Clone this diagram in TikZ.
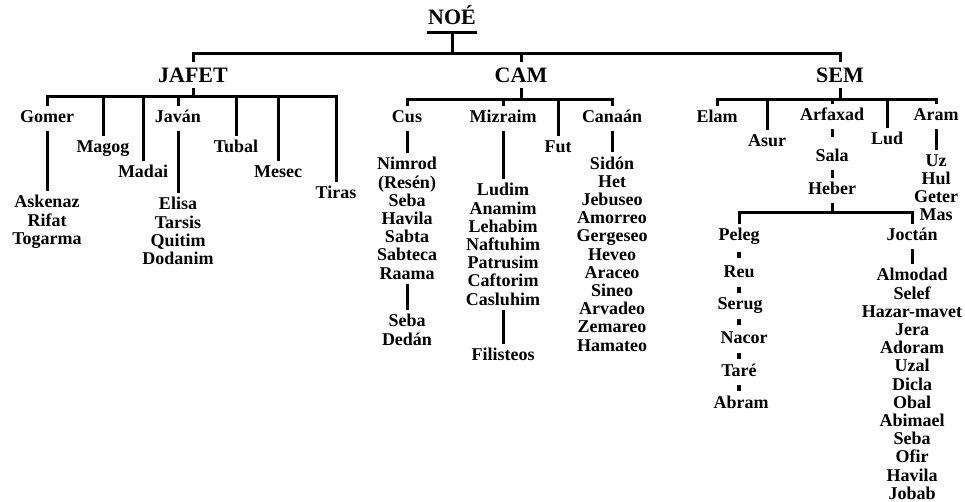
\documentclass[tikz,border=0pt]{standalone}
\usepackage{fontspec}
\setmainfont{Liberation Serif}
\usetikzlibrary{positioning,calc}

\begin{document}
\begin{tikzpicture}[x=1pt,y=-1pt,line width=3pt,
	raiz/.style={font=\bfseries\fontsize{22}{22}\selectfont,inner xsep=0pt,inner ysep=6pt,text depth=0pt,anchor=base},
	jefe/.style={font=\bfseries\fontsize{22}{22}\selectfont,inner sep=4pt,text height=15pt,text depth=0pt,anchor=base},
	hijo/.style={font=\bfseries\fontsize{18}{18.2}\selectfont,inner sep=3pt,text height=12pt,text depth=4pt,anchor=base},
	lista/.style={font=\bfseries\fontsize{18}{18.2}\selectfont,inner sep=3pt,align=center,anchor=north},
	paso/.style={line width=3.5pt}]
	\useasboundingbox[fill=white] (0,0) rectangle (965,502);

	% Noe and his three sons
	\node[raiz] (noe) at (452,25) {NOÉ};
	\coordinate[below=21pt of noe.south] (tronco);
	\node[jefe] (jafet) at (193,83) {JAFET};
	\node[jefe] (cam) at (521,83) {CAM};
	\node[jefe] (sem) at (840,83) {SEM};
	\draw (noe.south west) -- (noe.south east);
	\draw (noe.south) -- (tronco);
	\draw (jafet.north) |- (tronco) -| (sem.north);
	\draw (cam.north) -- (cam.north |- tronco);

	% Jafet
	\node[hijo] (gomer) at (47,123) {Gomer};
	\node[hijo] (magog) at (103,153) {Magog};
	\node[hijo] (madai) at (143,178) {Madai};
	\node[hijo] (javan) at (178,123) {Javán};
	\node[hijo] (tubal) at (236,153) {Tubal};
	\node[hijo] (mesec) at (278,178) {Mesec};
	\node[hijo] (tiras) at (336,199) {Tiras};
	\node[lista] (gomerh) at (47,191) {Askenaz\\Rifat\\Togarma};
	\node[lista] (javanh) at (178,193) {Elisa\\Tarsis\\Quitim\\Dodanim};
	\coordinate[below=8pt of jafet.south] (rjafet);
	\draw (jafet.south) -- (rjafet);
	\draw (gomer.north) |- (rjafet) -| (tiras.north);
	\foreach \n in {magog,madai,javan,tubal,mesec}
		\draw (\n.north) -- (\n.north |- rjafet);
	\draw (gomer.south) -- (gomerh.north);
	\draw (javan.south) -- (javanh.north);

	% Cam
	\node[hijo] (cus) at (407,123) {Cus};
	\node[hijo] (mizraim) at (503,123) {Mizraim};
	\node[hijo] (fut) at (558,153) {Fut};
	\node[hijo] (canaan) at (612,123) {Canaán};
	\node[lista] (cush) at (407,153) {Nimrod\\(Resén)\\Seba\\Havila\\Sabta\\Sabteca\\Raama};
	\node[lista] (raamah) at (407,310) {Seba\\Dedán};
	\node[lista] (mizraimh) at (503,179) {Ludim\\Anamim\\Lehabim\\Naftuhim\\Patrusim\\Caftorim\\Casluhim};
	\node[hijo] (filisteos) at (503,360) {Filisteos};
	\node[lista] (canaanh) at (612,152) {Sidón\\Het\\Jebuseo\\Amorreo\\Gergeseo\\Heveo\\Araceo\\Sineo\\Arvadeo\\Zemareo\\Hamateo};
	\coordinate[below=11pt of cam.south] (rcam);
	\draw (cam.south) -- (rcam);
	\draw (cus.north) |- (rcam) -| (canaan.north);
	\foreach \n in {mizraim,fut}
		\draw (\n.north) -- (\n.north |- rcam);
	\draw (cus.south) -- (cush.north);
	\draw (cush.south) -- (raamah.north);
	\draw (mizraim.south) -- (mizraimh.north);
	\draw (mizraimh.south) -- (filisteos.north);
	\draw (canaan.south) -- (canaanh.north);

	% Sem
	\node[hijo] (elam) at (717,123) {Elam};
	\node[hijo] (asur) at (767,147) {Asur};
	\node[hijo] (arfaxad) at (832,121) {Arfaxad};
	\node[hijo] (lud) at (887,145) {Lud};
	\node[hijo] (aram) at (936,121) {Aram};
	\node[lista] (aramh) at (936,150) {Uz\\Hul\\Geter\\Mas};
	\node[hijo] (sala) at (832,162) {Sala};
	\node[hijo] (heber) at (832,195) {Heber};
	\node[hijo] (peleg) at (739,241) {Peleg};
	\node[hijo] (joctan) at (912,241) {Joctán};
	\node[hijo] (reu) at (739,278) {Reu};
	\node[hijo] (serug) at (740,309) {Serug};
	\node[hijo] (nacor) at (744,343) {Nacor};
	\node[hijo] (tare) at (739,376) {Taré};
	\node[hijo] (abram) at (741,408) {Abram};
	\node[lista] (joctanh) at (912,264) {Almodad\\Selef\\Hazar-mavet\\Jera\\Adoram\\Uzal\\Dicla\\Obal\\Abimael\\Seba\\Ofir\\Havila\\Jobab};
	\coordinate[below=11pt of sem.south] (rsem);
	\coordinate[below=9pt of heber.south] (rheber);
	\draw (sem.south) -- (rsem);
	\draw (elam.north) |- (rsem) -| (aram.north);
	\foreach \n in {asur,arfaxad,lud}
		\draw (\n.north) -- (\n.north |- rsem);
	\draw (aram.south) -- (aramh.north);
	\draw[shorten >=8pt] (arfaxad.south) -- (sala.north);
	\draw (sala.south) -- (heber.north);
	\draw (heber.south) -- (rheber);
	\draw (peleg.north) |- (rheber) -| (joctan.north);
	\draw (joctan.south) -- (joctanh.north);
	% short dashes down the line of Peleg
	\foreach \a/\b in {peleg/reu,reu/serug,serug/nacor,nacor/tare,tare/abram} {
		\coordinate (m) at ($(peleg.south |- \a.south)!.5!(peleg.south |- \b.north)$);
		\draw[paso] ($(m)+(0,-3)$) -- ($(m)+(0,3)$);
	}
\end{tikzpicture}
\end{document}
